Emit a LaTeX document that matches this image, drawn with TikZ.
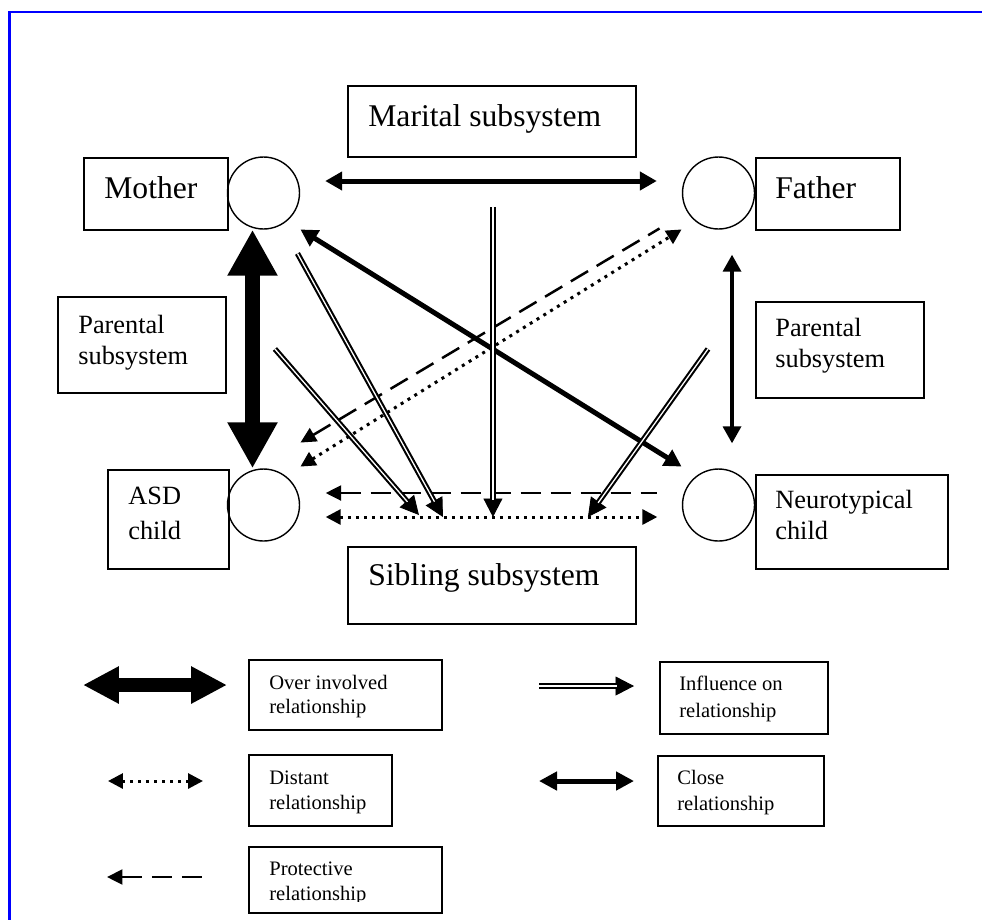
\documentclass[tikz,border=0pt]{standalone}
\usepackage{fontspec}
\setmainfont{Liberation Serif}
\usepackage{tikz}
\usetikzlibrary{arrows.meta,calc,positioning}

% double shaft first, then the solid head on top of its end
\newcommand{\inflarrow}[2]{%
	\draw[inflhead] ($(#2)!0.37cm!(#1)$) -- (#2);
	\draw[infl] (#1) -- ($(#2)!0.35cm!(#1)$);
}

\begin{document}
\begin{tikzpicture}[
		x=0.02cm, y=-0.02cm,
		box/.style={draw, rectangle, line width=1.1pt, inner sep=0pt, anchor=north west},
		person/.style={draw, circle, line width=0.8pt, minimum size=1.44cm, inner sep=0pt},
		bigtxt/.style={anchor=base west, inner sep=0pt, font=\fontsize{18pt}{21pt}\selectfont},
		midtxt/.style={anchor=north west, inner sep=0pt, align=left, font=\fontsize{15pt}{17.5pt}\selectfont},
		smalltxt/.style={anchor=north west, inner sep=0pt, align=left, font=\fontsize{11.7pt}{13.7pt}\selectfont},
		overinv/.style={line width=0.3cm, {Triangle[length=0.92cm,width=0.94cm]}-{Triangle[length=0.92cm,width=0.94cm]}},
		closerel/.style={line width=0.1cm, {Triangle[length=0.34cm,width=0.36cm]}-{Triangle[length=0.34cm,width=0.36cm]}},
		distrel/.style={line width=0.06cm, dash pattern=on 0.06cm off 0.1cm, {Triangle[length=0.3cm,width=0.3cm]}-{Triangle[length=0.3cm,width=0.3cm]}},
		protrel/.style={line width=0.05cm, dash pattern=on 0.4cm off 0.2cm, {Triangle[length=0.31cm,width=0.3cm]}-},
		infl/.style={double, line width=0.042cm, double distance=0.026cm},
		inflhead/.style={line width=0.5pt, -{Triangle[length=0.37cm,width=0.38cm]}},
	]
	\useasboundingbox (0,0) rectangle (982,920);

	% page frame
	\draw[blue, line width=1.6pt] (982,12) -- (9.5,12) -- (9.5,920);

	% family members
	\node[person] (mom) at (263.5,193) {};
	\node[person] (dad) at (718.5,193) {};
	\node[person] (asd) at (263.5,505) {};
	\node[person] (nt) at (718.5,505) {};

	\node[box, minimum width=2.88cm, minimum height=1.44cm] (mbox) at (83,157) {};
	\node[box, minimum width=2.88cm, minimum height=1.44cm] (fbox) at (755,157) {};
	\node[box, minimum width=2.42cm, minimum height=1.98cm] (abox) at (107,469) {};
	\node[box, minimum width=3.84cm, minimum height=1.88cm] (nbox) at (755,474) {};
	\node[bigtxt] (tmom) at (104,198) {Mother};
	\node[bigtxt] (tdad) at (775,198) {Father};
	\node[midtxt, font=\fontsize{15pt}{19.9pt}\selectfont] (tasd) at (128,487) {ASD\\child};
	\node[midtxt] (tnt) at (775,490) {Neurotypical\\child};

	% subsystems
	\node[box, minimum width=5.76cm, minimum height=1.42cm] (mar) at (347,85) {};
	\node[box, minimum width=5.76cm, minimum height=1.54cm] (sib) at (347,546) {};
	\node[box, minimum width=3.36cm, minimum height=1.92cm] (lpar) at (57,296) {};
	\node[box, minimum width=3.36cm, minimum height=1.92cm] (rpar) at (755,301) {};
	\node[bigtxt] (tmar) at (368,126) {Marital subsystem};
	\node[bigtxt] (tsib) at (368,585) {Sibling subsystem};
	\node[midtxt] (tlpar) at (78,315) {Parental\\subsystem};
	\node[midtxt] (trpar) at (775,318) {Parental\\subsystem};

	% relationships
	\draw[closerel] ([shift={(25,-12)}]mom.east) -- ([shift={(-25,-12)}]dad.west);
	\draw[overinv] ([xshift=-0.22cm]mom.south) -- ([xshift=-0.22cm]asd.north);
	\draw[closerel, line width=0.07cm] ([shift={(13.5,25)}]dad.south) -- ([shift={(13.5,-25)}]nt.north);
	\draw[closerel] ([shift={(11,10.5)}]mom.south east) -- ([shift={(-11,-12.5)}]nt.north west);
	\draw[protrel] ([shift={(11,-36.5)}]asd.north east) -- ([shift={(-33,9.5)}]dad.south west);
	\draw[distrel] ([shift={(11,-12.5)}]asd.north east) -- ([shift={(-11,10.5)}]dad.south west);
	\draw[protrel] ([shift={(25.5,-12)}]asd.east) -- ([shift={(-24.5,-12)}]nt.west);
	\draw[distrel] ([shift={(25.5,12)}]asd.east) -- ([shift={(-24.5,12)}]nt.west);

	% influences on the sibling subsystem
	\coordinate (i1a) at ([shift={(1,49)}]mar.south);
	\coordinate (i1b) at ([shift={(1,-29)}]sib.north);
	\coordinate (i2a) at ([shift={(8,34.5)}]mom.south east);
	\coordinate (i2b) at ([shift={(-49,-29)}]sib.north);
	\coordinate (i3a) at ([shift={(48,4)}]lpar.east);
	\coordinate (i3b) at ([shift={(-73,-31)}]sib.north);
	\coordinate (i4a) at ([shift={(-47,-1)}]rpar.west);
	\coordinate (i4b) at ([shift={(96,-29)}]sib.north);
	\inflarrow{i1a}{i1b}
	\inflarrow{i2a}{i2b}
	\inflarrow{i3a}{i3b}
	\inflarrow{i4a}{i4b}

	% key
	\node[box, minimum width=3.86cm, minimum height=1.4cm] (kover) at (248,659) {};
	\node[box, minimum width=2.86cm, minimum height=1.42cm] (kdist) at (248,754) {};
	\node[box, minimum width=3.86cm, minimum height=1.32cm] (kprot) at (248,846) {};
	\node[box, minimum width=3.36cm, minimum height=1.44cm] (kinfl) at (659,661) {};
	\node[box, minimum width=3.32cm, minimum height=1.4cm] (kclose) at (657,755) {};
	\node[smalltxt] (tover) at (269,675) {Over involved\\relationship};
	\node[smalltxt] (tdist) at (269,771) {Distant\\relationship};
	\begin{scope}
		\clip (248,846) rectangle (441,901);
		\node[smalltxt] (tprot) at (269,862) {Protective\\relationship};
	\end{scope}
	\node[smalltxt, font=\fontsize{11.7pt}{15.2pt}\selectfont] (tinfl) at (679,676) {Influence on\\relationship};
	\node[smalltxt, font=\fontsize{11.7pt}{14.8pt}\selectfont] (tclose) at (677,770) {Close\\relationship};

	\coordinate (ko1) at (83,685);  \coordinate (ko2) at (227,685);
	\coordinate (kd1) at (108,781); \coordinate (kd2) at (203,781);
	\coordinate (kp1) at (107,877); \coordinate (kp2) at (203,877);
	\coordinate (ki1) at (539,686); \coordinate (ki2) at (634,686);
	\coordinate (kc1) at (539,781); \coordinate (kc2) at (634,781);
	\draw[line width=0.28cm, {Triangle[length=0.72cm,width=0.7cm]}-{Triangle[length=0.72cm,width=0.7cm]}] (ko1) -- (ko2);
	\draw[distrel] (kd1) -- (kd2);
	\draw[protrel] (kp1) -- (kp2);
	\inflarrow{ki1}{ki2}
	\draw[closerel, {Triangle[length=0.36cm,width=0.36cm]}-{Triangle[length=0.36cm,width=0.36cm]}] (kc1) -- (kc2);
\end{tikzpicture}
\end{document}
